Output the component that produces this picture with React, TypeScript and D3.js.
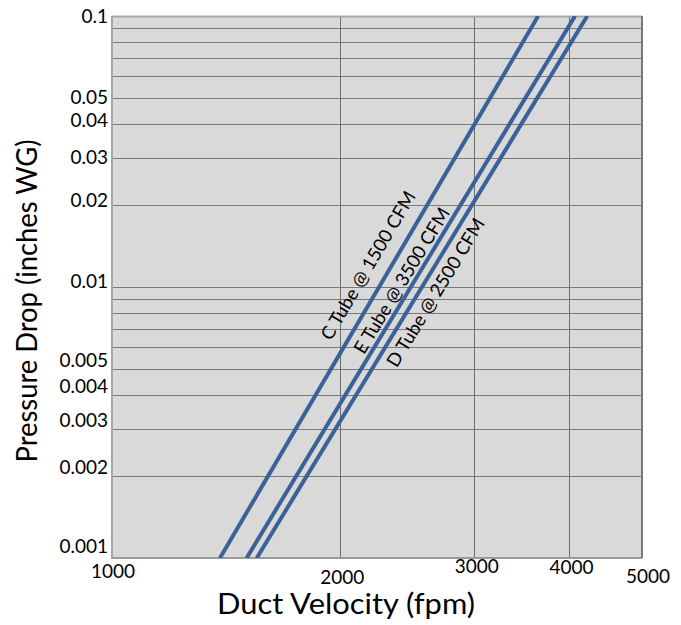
import React from "react";
import * as d3 from "d3";

// ---- data ----
const SERIES_NAMES = ["C Tube @ 1500 CFM", "E Tube @ 3500 CFM", "D Tube @ 2500 CFM"];
// velocity (fpm) at which each line crosses the bottom (0.001) and top (0.1) of the chart
const VELOCITY_AT_LOW = [1388, 1505, 1552];
const VELOCITY_AT_HIGH = [3648, 4080, 4234];
const PRESSURE_LOW = 0.001;
const PRESSURE_HIGH = 0.1;
// label anchor points (velocity, pressure)
const LABEL_VELOCITY = [1945, 2150, 2375];
const LABEL_PRESSURE = [0.0063, 0.0056, 0.0050];

const X_TICKS = [1000, 2000, 3000, 4000, 5000];
const Y_GRID = [
  0.001, 0.002, 0.003, 0.004, 0.005, 0.006, 0.007, 0.008, 0.009,
  0.01, 0.02, 0.03, 0.04, 0.05, 0.06, 0.07, 0.08, 0.09, 0.1,
];
const Y_LABELS = [0.001, 0.002, 0.003, 0.004, 0.005, 0.01, 0.02, 0.03, 0.04, 0.05, 0.1];

// ---- style ----
const W = 681;
const H = 625;
const PLOT = { left: 112, right: 642, top: 16, bottom: 558 };
const Y_LABEL_NUDGE = [-12, -9, -9, -9, -8, -6, -5, -1, -4, 0, 0];
const X_LABEL_DX = [1, 2, 3, 3, 6];
const X_LABEL_DY = [20, 26, 15, 16, 25];
const FONT = "Lato, 'Open Sans', sans-serif";
const LINE_COLOR = "#3a6198";

export default function App() {
  const x = d3.scaleLog().domain([1000, 5000]).range([PLOT.left, PLOT.right]);
  const y = d3.scaleLog().domain([PRESSURE_LOW, PRESSURE_HIGH]).range([PLOT.bottom, PLOT.top]);
  const line = d3
    .line<[number, number]>()
    .x((d) => x(d[0]))
    .y((d) => y(d[1]));

  return (
    <svg
      width={W}
      height={H}
      style={{ position: "absolute", left: 0, top: 0, background: "#fff" }}
      fontFamily={FONT}
    >
      <defs>
        <clipPath id="plotClip">
          <rect x={PLOT.left} y={PLOT.top} width={PLOT.right - PLOT.left} height={PLOT.bottom - PLOT.top} />
        </clipPath>
      </defs>
      <rect
        x={PLOT.left}
        y={PLOT.top}
        width={PLOT.right - PLOT.left}
        height={PLOT.bottom - PLOT.top}
        fill="#d9d9d9"
      />
      {Y_GRID.map((v) => (
        <line
          key={"yg" + v}
          x1={PLOT.left}
          x2={PLOT.right}
          y1={Math.round(y(v)) + 0.5}
          y2={Math.round(y(v)) + 0.5}
          stroke="#7a7a7a"
          strokeWidth={1}
        />
      ))}
      {X_TICKS.slice(1, -1).map((v) => (
        <line
          key={"xg" + v}
          x1={Math.round(x(v)) + 0.5}
          x2={Math.round(x(v)) + 0.5}
          y1={PLOT.top}
          y2={PLOT.bottom}
          stroke="#6e6e6e"
          strokeWidth={1}
        />
      ))}
      {/* frame */}
      <line x1={PLOT.left} x2={PLOT.right} y1={PLOT.top + 0.5} y2={PLOT.top + 0.5} stroke="#a6a6a6" strokeWidth={2} />
      <line x1={PLOT.left} x2={PLOT.right} y1={PLOT.bottom} y2={PLOT.bottom} stroke="#9a9a9a" strokeWidth={2} />
      <line x1={PLOT.left} x2={PLOT.left} y1={PLOT.top} y2={PLOT.bottom + 1} stroke="#a6a6a6" strokeWidth={2} />
      <line x1={PLOT.right} x2={PLOT.right} y1={PLOT.top} y2={PLOT.bottom} stroke="#7a7a7a" strokeWidth={2} />

      <g clipPath="url(#plotClip)">
        {SERIES_NAMES.map((name, i) => (
          <path
            key={name}
            d={line([
              [VELOCITY_AT_LOW[i], PRESSURE_LOW],
              [VELOCITY_AT_HIGH[i], PRESSURE_HIGH],
            ]) || ""}
            fill="none"
            stroke={LINE_COLOR}
            strokeWidth={4}
          />
        ))}
      </g>

      {SERIES_NAMES.map((name, i) => {
        const dx = x(VELOCITY_AT_HIGH[i]) - x(VELOCITY_AT_LOW[i]);
        const dy = y(PRESSURE_HIGH) - y(PRESSURE_LOW);
        const angle = (Math.atan2(dy, dx) * 180) / Math.PI;
        const ax = x(LABEL_VELOCITY[i]);
        const ay = y(LABEL_PRESSURE[i]);
        return (
          <text
            key={"lbl" + name}
            transform={`translate(${ax},${ay}) rotate(${angle})`}
            fontSize={18.5}
            fill="#000"
          >
            {name}
          </text>
        );
      })}

      {Y_LABELS.map((v, i) => (
        <text
          key={"yl" + v}
          x={PLOT.left - 4}
          y={y(v) + Y_LABEL_NUDGE[i]}
          dy="0.36em"
          textAnchor="end"
          fontSize={19}
          fill="#000"
        >
          {String(v)}
        </text>
      ))}
      {X_TICKS.map((v, i) => (
        <text
          key={"xl" + v}
          x={x(v) + X_LABEL_DX[i]}
          y={PLOT.bottom + X_LABEL_DY[i]}
          textAnchor="middle"
          fontSize={19}
          fill="#000"
        >
          {String(v)}
        </text>
      ))}

      <text
        x={346}
        y={614}
        textAnchor="middle"
        fontSize={28}
        textLength={258}
        lengthAdjust="spacingAndGlyphs"
        fill="#000"
      >
        Duct Velocity (fpm)
      </text>
      <text
        transform="translate(37,301) rotate(-90)"
        textAnchor="middle"
        fontSize={28}
        textLength={323}
        lengthAdjust="spacingAndGlyphs"
        fill="#000"
      >
        Pressure Drop (inches WG)
      </text>
    </svg>
  );
}
